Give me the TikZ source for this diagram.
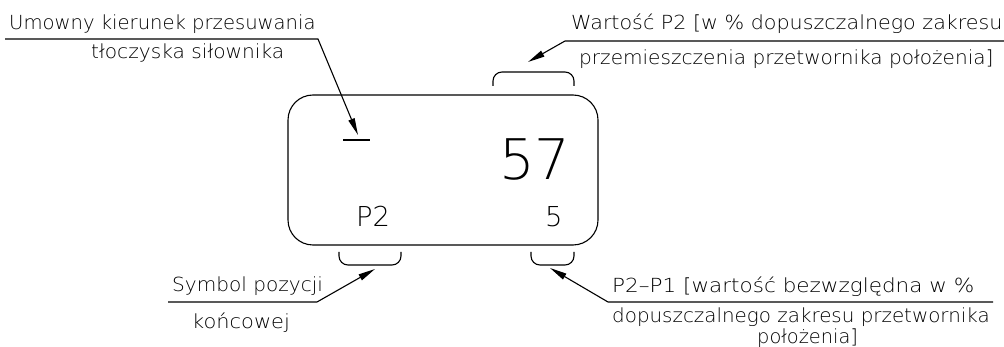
\documentclass[tikz,border=0pt]{standalone}
\usepackage{fontspec}
\usetikzlibrary{arrows.meta}
\newfontfamily\cadfont{DejaVu Sans ExtraLight}
\newcommand{\wide}[2]{\scalebox{#1}[1]{#2}}
\begin{document}
\begin{tikzpicture}[x=1pt,y=-1pt,
  txt/.style={inner sep=0pt,anchor=base west,font=\cadfont\fontsize{19.4}{21}\selectfont},
  big/.style={inner sep=0pt,anchor=base west,font=\cadfont\fontsize{56}{60}\selectfont},
  mid/.style={inner sep=0pt,anchor=base west,font=\cadfont\fontsize{27.4}{30}\selectfont},
  ln/.style={line width=1.1pt},
  lead/.style={line width=1.1pt,-{Triangle[length=17pt,width=6.5pt]}},
  brk/.style={line width=1.1pt,rounded corners=9pt}]
\path[use as bounding box] (0,0) rectangle (1004,347);
% main box
\node[draw,line width=1.1pt,rounded corners=25pt,minimum width=310pt,minimum height=150pt,inner sep=0pt] (box) at (443,170) {};
% display contents
\node[big] (v57) at (499,180) {57};
\node[mid] (p2) at (356,227) {P2};
\node[mid] (v5) at (545,227) {5};
\coordinate (barL) at (343,140);
\coordinate (barR) at (370,140);
\draw[ln] (barL) -- (barR);
\coordinate (barTip) at (358,135);
% brackets
\draw[brk] (493,86) -- (493,72) -- (574,72) -- (574,86);
\draw[brk] (339,252) -- (339,265) -- (401,265) -- (401,252);
\draw[brk] (531,252) -- (531,265) -- (574,265) -- (574,252);
\coordinate (topTip) at (528,62);
\coordinate (blTip) at (375,269);
\coordinate (brTip) at (550,268);
% texts
\node[txt] (t1) at (9,29.5) {\wide{1.01}{Umowny kierunek przesuwania}};
\node[txt] (t2) at (91,59) {\wide{1.04}{tłoczyska siłownika}};
\node[txt] (t3) at (571,30) {\wide{1.065}{Wartość P2 [w \% dopuszczalnego zakresu}};
\node[txt] (t4) at (579,65) {\wide{1.035}{przemieszczenia przetwornika położenia]}};
\node[txt] (t5) at (172,292) {\wide{1.035}{Symbol pozycji}};
\node[txt] (t6) at (192,328) {\wide{1.08}{końcowej}};
\node[txt] (t7) at (612,293) {\wide{1.11}{P2–P1 [wartość bezwzględna w \%}};
\node[txt] (t8) at (612,323) {\wide{1.025}{dopuszczalnego zakresu przetwornika}};
\node[txt] (t9) at (757,343) {położenia]};
% leaders
\coordinate (l1a) at (5,39); \coordinate (l1b) at (318,39);
\draw[lead] (l1a) -- (l1b) -- (barTip);
\coordinate (l2a) at (1004,41); \coordinate (l2b) at (565,41);
\draw[lead] (l2a) -- (l2b) -- (topTip);
\coordinate (l3a) at (168,302); \coordinate (l3b) at (317,302);
\draw[lead] (l3a) -- (l3b) -- (blTip);
\coordinate (l4a) at (993,302); \coordinate (l4b) at (608,302);
\draw[lead] (l4a) -- (l4b) -- (brTip);
\end{tikzpicture}
\end{document}
